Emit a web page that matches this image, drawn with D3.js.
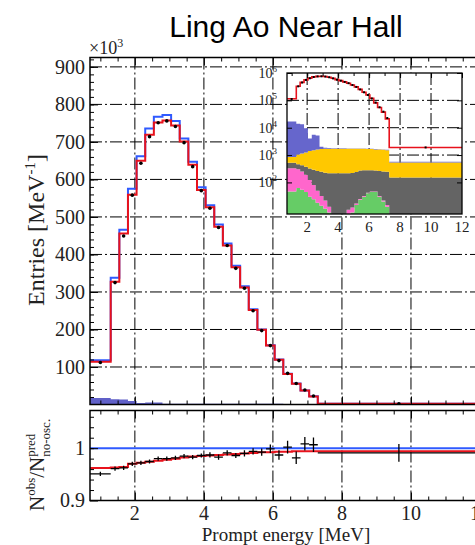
<!DOCTYPE html>
<html>
<head>
<meta charset="utf-8">
<script src="https://cdn.jsdelivr.net/npm/d3@7"></script>
<style>
body { margin: 0; background: #fff; }
svg { display: block; }
</style>
</head>
<body>
<svg id="chart" width="475" height="545"></svg>
<script>
// bin edges [MeV]
const edges = [0.7, 1.3, 1.55, 1.8, 2.05, 2.3, 2.55, 2.8, 3.05, 3.3, 3.55, 3.8, 4.05, 4.3, 4.55, 4.8, 5.05, 5.3, 5.55, 5.8, 6.05, 6.3, 6.55, 6.8, 7.05, 7.3, 12];

// entries per MeV, x10^3
const noOsc = [118, 338, 466, 575, 662, 736, 767, 772, 756, 709, 647, 579, 531, 480, 429, 370, 315, 254, 200, 158, 120, 82, 56, 37, 22, 1.9];
const pred  = [114, 327, 456, 559, 650, 719, 752, 757, 744, 701, 639, 572, 526, 474, 424, 366, 312, 252, 199, 157, 119, 81, 55, 37, 21, 1.9];
const obs   = [112, 325, 449, 558, 643, 714, 751, 756, 741, 698, 634, 570, 523, 472, 424, 363, 310, 250, 197, 157, 117, 83, 56, 38.6, 22.6, 1.9];

// ratio to no-oscillation prediction
const ratioPred = [0.962, 0.963, 0.964, 0.970, 0.972, 0.974, 0.976, 0.978, 0.980, 0.982, 0.984, 0.985, 0.986, 0.987, 0.988, 0.989, 0.990, 0.991, 0.992, 0.992, 0.993, 0.993, 0.994, 0.994, 0.994, 0.994];
const ratioObs  = [0.951, 0.961, 0.9625, 0.970, 0.972, 0.9745, 0.980, 0.980, 0.9816, 0.9847, 0.9828, 0.986, 0.987, 0.983, 0.991, 0.986, 0.990, 0.9937, 0.9924, 0.9988, 0.987, 1.002, 0.9816, 1.0084, 1.0065, 0.991];
const ratioErr  = [0.004, 0.004, 0.004, 0.004, 0.004, 0.004, 0.004, 0.004, 0.004, 0.004, 0.004, 0.004, 0.005, 0.005, 0.005, 0.005, 0.006, 0.006, 0.007, 0.008, 0.009, 0.012, 0.012, 0.013, 0.014, 0.017];

// backgrounds, entries per MeV (stacked bottom -> top)
const bgGreen = [47, 62, 54, 45, 30, 24, 18, 14, 11, 8, 0, 0, 0, 0, 0, 8, 15, 23, 30, 40, 45, 45, 30, 20, 13, 0];
const bgPink  = [283, 238, 196, 145, 93, 57, 32, 18, 11, 5, 0, 0, 0, 0, 10, 4, 2, 2, 2, 2, 2, 2, 2, 2, 2, 0];
const bgGray  = [190, 160, 170, 185, 197, 209, 210, 213, 203, 201, 214, 214, 214, 214, 204, 208, 223, 245, 248, 238, 233, 223, 228, 228, 230, 150];
const bgGold  = [330, 590, 730, 875, 1080, 1210, 1340, 1405, 1475, 1486, 1486, 1486, 1486, 1486, 1486, 1480, 1460, 1430, 1420, 1370, 1370, 1330, 1340, 1300, 1255, 390];
const bgBlue  = [16150, 12950, 12350, 8250, 2600, 4000, 3600, 350, 150, 100, 80, 70, 60, 60, 50, 50, 50, 50, 40, 50, 50, 50, 40, 50, 50, 30];

const xTicks = [2, 4, 6, 8, 10, 12];
const yTicks = [100, 200, 300, 400, 500, 600, 700, 800, 900];
const ratioTicks = [0.9, 1];
const insetXTicks = [2, 4, 6, 8, 10, 12];
const insetYTicks = [1e2, 1e3, 1e4, 1e5, 1e6];

const serif = "Liberation Serif, Times New Roman, serif";
const red = "#e8121c", blue = "#2f5aff";
const dash = "12,3,2,3";

const svg = d3.select("#chart");

const x = d3.scaleLinear().domain([0.7, 12]).range([90, 480]);
const yMain = d3.scaleLinear().domain([0, 925]).range([404.5, 57.5]);
const yRat = d3.scaleLinear().domain([0.9, 1.072]).range([500.5, 410.5]);
const xIn = d3.scaleLinear().domain([0.7, 12]).range([287, 462]);
const yIn = d3.scaleLog().domain([7, 1e6]).range([214, 73]).clamp(true);

const defs = svg.append("defs");
defs.append("clipPath").attr("id", "cMain").append("rect")
  .attr("x", x(0.7)).attr("y", yMain(925)).attr("width", x(12) - x(0.7)).attr("height", yMain(0) - yMain(925));
defs.append("clipPath").attr("id", "cRat").append("rect")
  .attr("x", x(0.7)).attr("y", yRat(1.072)).attr("width", x(12) - x(0.7)).attr("height", yRat(0.9) - yRat(1.072));
defs.append("clipPath").attr("id", "cIn").append("rect")
  .attr("x", xIn(0.7)).attr("y", 73).attr("width", xIn(12) - xIn(0.7)).attr("height", 141);

function stepPts(vals) {
  return vals.map((v, i) => [edges[i], v]).concat([[edges[edges.length - 1], vals[vals.length - 1]]]);
}

// title
svg.append("text").attr("x", 286).attr("y", 37).attr("text-anchor", "middle")
  .attr("font-family", "Liberation Sans, Arial, sans-serif").attr("font-size", 30).attr("fill", "#000")
  .text("Ling Ao Near Hall");

// ---------- main panel ----------
const gm = svg.append("g").attr("clip-path", "url(#cMain)");

gm.selectAll(".vg").data(xTicks.slice(0, 5)).enter().append("line")
  .attr("x1", d => x(d)).attr("x2", d => x(d)).attr("y1", yMain(925)).attr("y2", yMain(0))
  .attr("stroke", "#000").attr("stroke-width", 1).attr("stroke-dasharray", dash);
gm.selectAll(".hg").data(yTicks).enter().append("line")
  .attr("x1", x(0.7)).attr("x2", x(12)).attr("y1", d => yMain(d)).attr("y2", d => yMain(d))
  .attr("stroke", "#000").attr("stroke-width", 1).attr("stroke-dasharray", dash);

// background stack
const bgRows = edges.slice(0, -1).map((e, i) => ({
  green: bgGreen[i], pink: bgPink[i], gray: bgGray[i], gold: bgGold[i], blue: bgBlue[i]
}));
const keys = ["green", "pink", "gray", "gold", "blue"];
const bgColor = { green: "#66cc66", pink: "#ff66cc", gray: "#646464", gold: "#ffc800", blue: "#6666cc" };
const stacked = d3.stack().keys(keys)(bgRows);
function layerPts(layer) {
  const pts = layer.map((d, i) => ({ e: edges[i], y0: d[0], y1: d[1] }));
  const last = pts[pts.length - 1];
  pts.push({ e: edges[edges.length - 1], y0: last.y0, y1: last.y1 });
  return pts;
}
const topLayer = layerPts(stacked[stacked.length - 1]);

gm.append("path").datum(topLayer)
  .attr("d", d3.area().x(d => x(d.e)).y0(yMain(0)).y1(d => yMain(d.y1 / 1000)).curve(d3.curveStepAfter))
  .attr("fill", "#6060c8");

const lineMain = d3.line().x(d => x(d[0])).y(d => yMain(d[1])).curve(d3.curveStepAfter);
gm.append("path").datum(stepPts(noOsc)).attr("d", lineMain)
  .attr("fill", "none").attr("stroke", blue).attr("stroke-width", 2);
gm.append("path").datum(stepPts(pred)).attr("d", lineMain)
  .attr("fill", "none").attr("stroke", red).attr("stroke-width", 2);
gm.selectAll(".pt").data(obs).enter().append("circle")
  .attr("cx", (d, i) => x((edges[i] + edges[i + 1]) / 2)).attr("cy", d => yMain(d))
  .attr("r", 1.8).attr("fill", "#000");

// main axes (inward ticks)
function ticksOnly(g) { g.select(".domain").remove(); g.selectAll(".tick line").attr("stroke", "#000"); }
svg.append("g").attr("transform", `translate(${x(0.7)},0)`)
  .call(d3.axisLeft(yMain).tickValues(d3.range(20, 925, 20)).tickSize(-4).tickFormat(""))
  .call(ticksOnly);
svg.append("g").attr("transform", `translate(${x(0.7)},0)`)
  .call(d3.axisLeft(yMain).tickValues(yTicks).tickSize(-8).tickPadding(5))
  .call(ticksOnly)
  .call(g => g.selectAll("text").attr("font-family", serif).attr("font-size", 20).attr("fill", "#222"));
[yMain(0), yMain(925)].forEach((yy, k) => {
  const ax = k === 0 ? d3.axisBottom(x) : d3.axisTop(x);
  svg.append("g").attr("transform", `translate(0,${yy})`)
    .call(ax.tickValues(d3.range(1, 12.01, 0.5).filter(v => v % 2 !== 0)).tickSize(-4).tickFormat(""))
    .call(ticksOnly);
  svg.append("g").attr("transform", `translate(0,${yy})`)
    .call((k === 0 ? d3.axisBottom(x) : d3.axisTop(x)).tickValues(xTicks).tickSize(-8).tickFormat(""))
    .call(ticksOnly);
});
svg.append("rect").attr("x", x(0.7)).attr("y", yMain(925)).attr("width", x(12) - x(0.7))
  .attr("height", yMain(0) - yMain(925)).attr("fill", "none").attr("stroke", "#000").attr("stroke-width", 1.5);

// x10^3
svg.append("text").attr("x", 89).attr("y", 54).attr("font-family", serif).attr("font-size", 18).attr("fill", "#222")
  .text("\u00d710").append("tspan").attr("font-size", 12).attr("dy", -7).text("3");

// y title
svg.append("text").attr("transform", "translate(44,230) rotate(-90)").attr("text-anchor", "middle")
  .attr("font-family", serif).attr("font-size", 24).attr("fill", "#222")
  .call(t => {
    t.append("tspan").text("Entries [MeV");
    t.append("tspan").attr("font-size", 15).attr("dy", -9).text("-1");
    t.append("tspan").attr("dy", 9).text("]");
  });

// ---------- inset ----------
svg.append("rect").attr("x", xIn(0.7)).attr("y", 73).attr("width", xIn(12) - xIn(0.7)).attr("height", 141)
  .attr("fill", "#fff");
const gi = svg.append("g").attr("clip-path", "url(#cIn)");
gi.selectAll(".vgi").data(insetXTicks.slice(0, 5)).enter().append("line")
  .attr("x1", d => xIn(d)).attr("x2", d => xIn(d)).attr("y1", 73).attr("y2", 214)
  .attr("stroke", "#000").attr("stroke-width", 1).attr("stroke-dasharray", dash);
gi.selectAll(".hgi").data(insetYTicks.slice(0, 4)).enter().append("line")
  .attr("x1", xIn(0.7)).attr("x2", xIn(12)).attr("y1", d => yIn(d)).attr("y2", d => yIn(d))
  .attr("stroke", "#000").attr("stroke-width", 1).attr("stroke-dasharray", dash);

const areaIn = d3.area().x(d => xIn(d.e)).y0(d => yIn(Math.max(d.y0, 7))).y1(d => yIn(Math.max(d.y1, 7)))
  .curve(d3.curveStepAfter);
stacked.forEach(layer => {
  gi.append("path").datum(layerPts(layer)).attr("d", areaIn).attr("fill", bgColor[layer.key]);
});
const lineIn = d3.line().x(d => xIn(d[0])).y(d => yIn(d[1] * 1000)).curve(d3.curveStepAfter);
gi.append("path").datum(stepPts(pred)).attr("d", lineIn)
  .attr("fill", "none").attr("stroke", red).attr("stroke-width", 1.6);
gi.selectAll(".pti").data(obs).enter().append("rect")
  .attr("x", (d, i) => xIn((edges[i] + edges[i + 1]) / 2) - 1).attr("y", d => yIn(d * 1000) - 1)
  .attr("width", 2).attr("height", 2).attr("fill", "#000");

svg.append("g").attr("transform", "translate(0,73)")
  .call(d3.axisTop(xIn).tickValues(d3.range(1, 12.01, 1)).tickSize(-3).tickFormat("")).call(ticksOnly);
svg.append("g").attr("transform", "translate(0,73)")
  .call(d3.axisTop(xIn).tickValues(insetXTicks).tickSize(-5).tickFormat("")).call(ticksOnly);
svg.append("g").attr("transform", `translate(${xIn(0.7)},0)`)
  .call(d3.axisLeft(yIn).tickValues(insetYTicks).tickSize(-5).tickFormat("")).call(ticksOnly);
svg.append("g").attr("transform", `translate(${xIn(12)},0)`)
  .call(d3.axisRight(yIn).tickValues(insetYTicks).tickSize(-5).tickFormat("")).call(ticksOnly);
svg.append("rect").attr("x", xIn(0.7)).attr("y", 73).attr("width", xIn(12) - xIn(0.7)).attr("height", 141)
  .attr("fill", "none").attr("stroke", "#000").attr("stroke-width", 1.3);

svg.selectAll(".ixl").data(insetXTicks).enter().append("text")
  .attr("x", d => xIn(d)).attr("y", 232).attr("text-anchor", "middle")
  .attr("font-family", serif).attr("font-size", 15).attr("fill", "#222").text(d => d);
svg.selectAll(".iyl").data(insetYTicks).enter().append("text")
  .attr("x", 277).attr("y", d => yIn(d) + 5).attr("text-anchor", "end")
  .attr("font-family", serif).attr("font-size", 14).attr("fill", "#222")
  .each(function (d) {
    const t = d3.select(this);
    t.append("tspan").text("10");
    t.append("tspan").attr("font-size", 9).attr("dy", -6).text(Math.round(Math.log10(d)));
  });

// ---------- ratio panel ----------
const gr = svg.append("g").attr("clip-path", "url(#cRat)");
gr.selectAll(".vgr").data(xTicks.slice(0, 5)).enter().append("line")
  .attr("x1", d => x(d)).attr("x2", d => x(d)).attr("y1", yRat(1.072)).attr("y2", yRat(0.9))
  .attr("stroke", "#000").attr("stroke-width", 1).attr("stroke-dasharray", dash);
gr.append("line").attr("x1", x(0.7)).attr("x2", x(12)).attr("y1", yRat(1)).attr("y2", yRat(1))
  .attr("stroke", blue).attr("stroke-width", 2);
const lineRat = d3.line().x(d => x(d[0])).y(d => yRat(d[1])).curve(d3.curveStepAfter);
gr.append("path").datum(stepPts(ratioPred)).attr("d", lineRat)
  .attr("fill", "none").attr("stroke", red).attr("stroke-width", 2);
const pts = gr.selectAll(".rp").data(ratioObs).enter().append("g");
pts.append("line")
  .attr("x1", (d, i) => x(edges[i])).attr("x2", (d, i) => x(edges[i + 1]))
  .attr("y1", d => yRat(d)).attr("y2", d => yRat(d))
  .attr("stroke", "#000").attr("stroke-width", 1.3);
pts.append("line")
  .attr("x1", (d, i) => x((edges[i] + edges[i + 1]) / 2)).attr("x2", (d, i) => x((edges[i] + edges[i + 1]) / 2))
  .attr("y1", (d, i) => yRat(d - ratioErr[i])).attr("y2", (d, i) => yRat(d + ratioErr[i]))
  .attr("stroke", "#000").attr("stroke-width", 1.3);

svg.append("g").attr("transform", `translate(${x(0.7)},0)`)
  .call(d3.axisLeft(yRat).tickValues(d3.range(0.92, 1.071, 0.02)).tickSize(-4).tickFormat("")).call(ticksOnly);
svg.append("g").attr("transform", `translate(${x(0.7)},0)`)
  .call(d3.axisLeft(yRat).tickValues(ratioTicks).tickSize(-8).tickPadding(5).tickFormat(d => d === 1 ? "1" : "0.9"))
  .call(ticksOnly)
  .call(g => g.selectAll("text").attr("font-family", serif).attr("font-size", 20).attr("fill", "#222"));
[yRat(0.9), yRat(1.072)].forEach((yy, k) => {
  svg.append("g").attr("transform", `translate(0,${yy})`)
    .call((k === 0 ? d3.axisBottom(x) : d3.axisTop(x)).tickValues(d3.range(1, 12.01, 0.5).filter(v => v % 2 !== 0)).tickSize(-4).tickFormat(""))
    .call(ticksOnly);
  svg.append("g").attr("transform", `translate(0,${yy})`)
    .call((k === 0 ? d3.axisBottom(x) : d3.axisTop(x)).tickValues(xTicks).tickSize(-8).tickFormat(""))
    .call(ticksOnly);
});
svg.append("rect").attr("x", x(0.7)).attr("y", yRat(1.072)).attr("width", x(12) - x(0.7))
  .attr("height", yRat(0.9) - yRat(1.072)).attr("fill", "none").attr("stroke", "#000").attr("stroke-width", 1.5);

svg.selectAll(".xl").data(xTicks).enter().append("text")
  .attr("x", d => x(d)).attr("y", 520).attr("text-anchor", "middle")
  .attr("font-family", serif).attr("font-size", 20).attr("fill", "#222").text(d => d);

svg.append("text").attr("x", 286).attr("y", 541).attr("text-anchor", "middle")
  .attr("font-family", serif).attr("font-size", 19).attr("fill", "#222").text("Prompt energy [MeV]");

// ratio y title
const rt = svg.append("g").attr("transform", "translate(44,511) rotate(-90)")
  .attr("font-family", serif).attr("fill", "#222");
let cx = 0;
function put(str, size, dy) {
  const t = rt.append("text").attr("x", cx).attr("y", dy).attr("font-size", size).text(str);
  return t.node().getComputedTextLength();
}
cx += put("N", 21, 0);
cx += put("obs", 13, -9);
cx += put("/N", 21, 0);
put("pred", 13, -9);
put("no-osc.", 13, 6);
</script>
</body>
</html>
